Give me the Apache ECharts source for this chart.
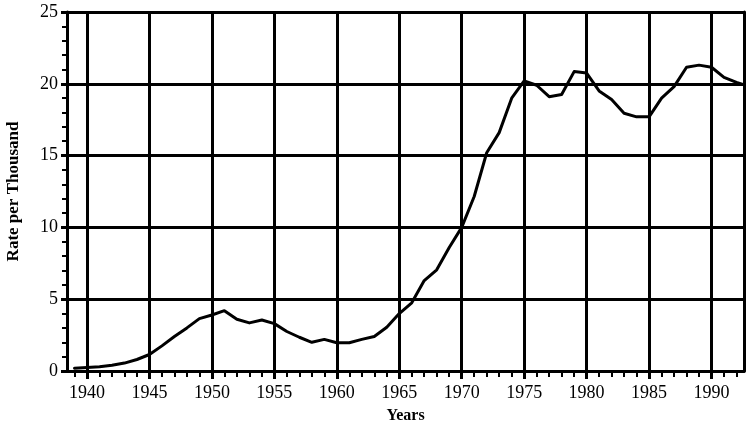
<!DOCTYPE html>
<html><head><meta charset="utf-8">
<script src="https://cdn.jsdelivr.net/npm/echarts@6/dist/echarts.min.js"></script>
<style>html,body{margin:0;padding:0;background:#fff}#c{width:750px;height:427px}</style>
</head><body><div id="c"></div>
<script>
const years = [1939,1940,1941,1942,1943,1944,1945,1946,1947,1948,1949,1950,1951,1952,1953,1954,1955,1956,1957,1958,1959,1960,1961,1962,1963,1964,1965,1966,1967,1968,1969,1970,1971,1972,1973,1974,1975,1976,1977,1978,1979,1980,1981,1982,1983,1984,1985,1986,1987,1988,1989,1990,1991,1992,1992.5];
const rates = [0.2,0.25,0.3,0.4,0.55,0.8,1.15,1.75,2.4,3.0,3.65,3.9,4.2,3.6,3.35,3.55,3.3,2.75,2.35,2.0,2.2,1.97,1.97,2.2,2.4,3.05,4.0,4.75,6.3,7.05,8.6,10.0,12.15,15.2,16.6,19.0,20.2,19.9,19.1,19.25,20.85,20.75,19.5,18.9,17.95,17.7,17.7,19.0,19.8,21.15,21.3,21.15,20.45,20.1,19.95];
const tickYears = [1939,1940,1941,1942,1943,1944,1945,1946,1947,1948,1949,1950,1951,1952,1953,1954,1955,1956,1957,1958,1959,1960,1961,1962,1963,1964,1965,1966,1967,1968,1969,1970,1971,1972,1973,1974,1975,1976,1977,1978,1979,1980,1981,1982,1983,1984,1985,1986,1987,1988,1989,1990,1991,1992];
const labelYears = [1940,1945,1950,1955,1960,1965,1970,1975,1980,1985,1990];

const font = 'Liberation Serif';
const chart = echarts.init(document.getElementById('c'), null, {renderer:'canvas'});
chart.setOption({
  animation:false,
  backgroundColor:'#fff',
  grid:{left:67, right:6, top:12, bottom:56, containLabel:false, outerBoundsMode:'none'},
  xAxis:[{
    type:'value', min:1938.4, max:1992.6, position:'bottom',
    axisLine:{show:true, onZero:false, lineStyle:{color:'#000', width:3}},
    axisTick:{show:true, customValues:tickYears, length:6, lineStyle:{color:'#000', width:2}},
    axisLabel:{customValues:labelYears, formatter:v=>String(v), color:'#000', fontFamily:font, fontSize:18, margin:13},
    splitLine:{show:false},
    name:'Years', nameLocation:'middle', nameGap:37,
    nameTextStyle:{color:'#000', fontFamily:font, fontWeight:'bold', fontSize:16}
  },{
    type:'value', min:1938.4, max:1992.6, position:'bottom',
    axisLine:{show:false, onZero:false},
    axisTick:{show:true, customValues:labelYears, length:8, lineStyle:{color:'#000', width:3}},
    axisLabel:{show:false},
    splitLine:{show:true, customValues:labelYears, lineStyle:{color:'#000', width:3}}
  }],
  yAxis:[{
    type:'value', min:0, max:25, interval:5, position:'left',
    axisLine:{show:true, lineStyle:{color:'#000', width:3}},
    axisTick:{show:true, length:6, lineStyle:{color:'#000', width:3}},
    minorTick:{show:true, splitNumber:5, length:5, lineStyle:{color:'#000', width:2}},
    axisLabel:{color:'#000', fontFamily:font, fontSize:18, margin:9},
    splitLine:{show:true, lineStyle:{color:'#000', width:3}},
    name:'Rate per Thousand', nameLocation:'middle', nameGap:45,
    nameTextStyle:{color:'#000', fontFamily:font, fontWeight:'bold', fontSize:17}
  },{
    type:'value', min:0, max:25, position:'right',
    axisLine:{show:true, lineStyle:{color:'#000', width:3}},
    axisTick:{show:false}, axisLabel:{show:false}, splitLine:{show:false}
  }],
  series:[{
    type:'line', xAxisIndex:0, yAxisIndex:0, symbol:'none',
    lineStyle:{color:'#000', width:3, join:'round', cap:'round'},
    data: years.map((y,i)=>[y, rates[i]])
  }]
});
</script></body></html>
